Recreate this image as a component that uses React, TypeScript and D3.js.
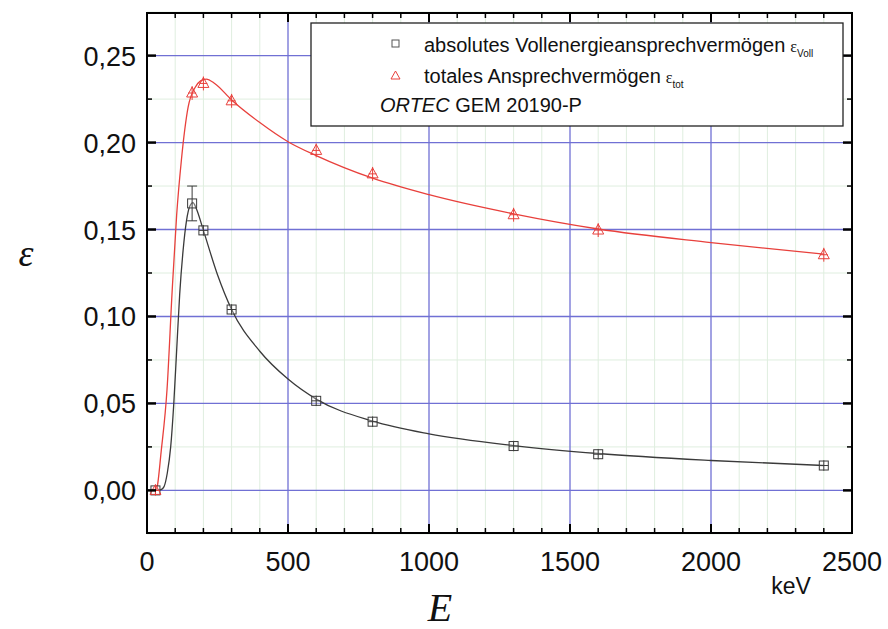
import React from "react";
import * as d3 from "d3";

const E_PTS = [30, 160, 200, 300, 600, 800, 1300, 1600, 2400];
const VOLL = [0.0, 0.165, 0.1495, 0.104, 0.0515, 0.0395, 0.0255, 0.0208, 0.0143];
const VOLL_ERR = [0.002, 0.01, 0.003, 0.003, 0.003, 0.003, 0.003, 0.003, 0.003];
const TOT = [0.0, 0.2285, 0.234, 0.224, 0.1955, 0.182, 0.1585, 0.1497, 0.1355];
const TOT_ERR = [0.003, 0.004, 0.004, 0.004, 0.004, 0.004, 0.004, 0.004, 0.004];

const FIT_VOLL_E = [30, 50, 60, 72, 84, 95, 105, 116, 128, 140, 152, 163, 175, 200, 250, 300, 400, 500, 600, 800, 1000, 1300, 1600, 2000, 2400];
const FIT_VOLL = [0, 0.0005, 0.002, 0.01, 0.025, 0.05, 0.08, 0.113, 0.138, 0.155, 0.1635, 0.1655, 0.162, 0.1495, 0.124, 0.104, 0.08, 0.064, 0.0525, 0.0398, 0.0325, 0.0258, 0.0212, 0.0172, 0.0143];
const FIT_TOT_E = [30, 36, 50, 71, 89, 105, 122, 146, 170, 190, 210, 240, 300, 400, 500, 600, 800, 1000, 1300, 1600, 2000, 2400];
const FIT_TOT = [0, 0.002, 0.022, 0.058, 0.114, 0.158, 0.19, 0.2205, 0.2315, 0.2355, 0.2365, 0.234, 0.2245, 0.2115, 0.2005, 0.1925, 0.1795, 0.17, 0.159, 0.1503, 0.1425, 0.1358];

const X_TICKS = [0, 500, 1000, 1500, 2000, 2500];
const X_LABELS = ["0", "500", "1000", "1500", "2000", "2500"];
const Y_TICKS = [0, 0.05, 0.1, 0.15, 0.2, 0.25];
const Y_LABELS = ["0,00", "0,05", "0,10", "0,15", "0,20", "0,25"];
const X_MINOR = d3.range(0, 2501, 100);
const Y_MINOR = [-0.025, 0, 0.025, 0.05, 0.075, 0.1, 0.125, 0.15, 0.175, 0.2, 0.225, 0.25, 0.275];

const LEGEND_1 = "absolutes Vollenergieansprechvermögen";
const LEGEND_2 = "totales Ansprechvermögen";
const LEGEND_3A = "ORTEC";
const LEGEND_3B = " GEM 20190-P";

const L = 147, R = 852, T = 13, B = 533;
const BLUE = "#7070d4";
const MINOR = "#dfeedf";
const RED = "#e8403c";
const DARK = "#3a3a3a";
const SANS = "'Liberation Sans', Arial, sans-serif";
const SERIF = "'Liberation Serif', 'Times New Roman', serif";

export default function App() {
  const x = d3.scaleLinear().domain([0, 2500]).range([L, R]);
  const y = d3.scaleLinear().domain([-0.0245, 0.2745]).range([B, T]);

  const vollLine = d3
    .line<number>()
    .x((_, i) => x(FIT_VOLL_E[i]))
    .y((d) => y(d))
    .curve(d3.curveMonotoneX)(FIT_VOLL) as string;
  const totLine = d3
    .line<number>()
    .x((_, i) => x(FIT_TOT_E[i]))
    .y((d) => y(d))
    .curve(d3.curveMonotoneX)(FIT_TOT) as string;

  const sq = 4.5;
  return (
    <svg width={888} height={629} style={{ position: "absolute", left: 0, top: 0, background: "#fff" }}>
      <defs>
        <clipPath id="plot">
          <rect x={L} y={T} width={R - L} height={B - T} />
        </clipPath>
      </defs>
      {/* minor grid */}
      <g stroke={MINOR} strokeWidth={1}>
        {X_MINOR.filter((v) => v % 500 !== 0).map((v) => (
          <line key={"xm" + v} x1={x(v)} x2={x(v)} y1={T} y2={B} />
        ))}
        {Y_MINOR.filter((v) => Math.round(v * 1000) % 50 !== 0).map((v) => (
          <line key={"ym" + v} x1={L} x2={R} y1={y(v)} y2={y(v)} />
        ))}
      </g>
      {/* major grid */}
      <g stroke={BLUE} strokeWidth={1.3}>
        {X_TICKS.slice(1, -1).map((v) => (
          <line key={"xg" + v} x1={x(v)} x2={x(v)} y1={T} y2={B} />
        ))}
        {Y_TICKS.map((v) => (
          <line key={"yg" + v} x1={L} x2={R} y1={y(v)} y2={y(v)} />
        ))}
      </g>
      {/* curves */}
      <g clipPath="url(#plot)" fill="none">
        <path d={totLine} stroke={RED} strokeWidth={1.3} />
        <path d={vollLine} stroke={DARK} strokeWidth={1.3} />
      </g>
      {/* voll markers */}
      <g stroke={DARK} strokeWidth={1} fill="none">
        {E_PTS.map((e, i) => {
          const cx = x(e), cy = y(VOLL[i]);
          const eTop = y(VOLL[i] + VOLL_ERR[i]);
          const eBot = y(VOLL[i] - VOLL_ERR[i]);
          const big = VOLL_ERR[i] > 0.005;
          return (
            <g key={"v" + i}>
              <rect x={cx - sq} y={cy - sq} width={2 * sq} height={2 * sq} fill="#fff" fillOpacity={0.3} />
              <line x1={cx} x2={cx} y1={eTop} y2={eBot} />
              {big ? (
                <>
                  <line x1={cx - 5} x2={cx + 5} y1={eTop} y2={eTop} />
                  <line x1={cx - 5} x2={cx + 5} y1={eBot} y2={eBot} />
                </>
              ) : (
                <line x1={cx - sq} x2={cx + sq} y1={cy} y2={cy} />
              )}
            </g>
          );
        })}
      </g>
      {/* tot markers */}
      <g stroke={RED} strokeWidth={1} fill="none">
        {E_PTS.map((e, i) => {
          const cx = x(e), cy = y(TOT[i]);
          const eTop = y(TOT[i] + TOT_ERR[i]);
          const eBot = y(TOT[i] - TOT_ERR[i]);
          return (
            <g key={"t" + i}>
              <path d={`M${cx},${cy - 6}L${cx + 5.5},${cy + 4}L${cx - 5.5},${cy + 4}Z`} />
              <line x1={cx} x2={cx} y1={eTop} y2={eBot} />
              <line x1={cx - 4} x2={cx + 4} y1={cy} y2={cy} />
            </g>
          );
        })}
      </g>
      {/* frame */}
      <rect x={L} y={T} width={R - L} height={B - T} fill="none" stroke="#000" strokeWidth={2} />
      {/* ticks */}
      <g stroke="#000">
        {X_MINOR.map((v) => {
          const major = v % 500 === 0;
          const len = major ? 9 : 5;
          const w = major ? 2 : 1.5;
          return (
            <g key={"xt" + v}>
              <line x1={x(v)} x2={x(v)} y1={B} y2={B - len} strokeWidth={w} />
              <line x1={x(v)} x2={x(v)} y1={T} y2={T + len} strokeWidth={w} />
            </g>
          );
        })}
        {Y_MINOR.filter((v) => v > -0.02 && v < 0.27).map((v) => {
          const major = Math.round(v * 1000) % 50 === 0;
          const len = major ? 9 : 5;
          const w = major ? 2.5 : 1.5;
          return (
            <g key={"yt" + v}>
              <line x1={L} x2={L + len} y1={y(v)} y2={y(v)} strokeWidth={w} />
              <line x1={R} x2={R - len} y1={y(v)} y2={y(v)} strokeWidth={w} />
            </g>
          );
        })}
      </g>
      {/* tick labels */}
      <g fontFamily={SANS} fontSize={27} fill="#111">
        {Y_TICKS.map((v, i) => (
          <text key={"yl" + v} x={136} y={y(v) + 10} textAnchor="end">
            {Y_LABELS[i]}
          </text>
        ))}
        {X_TICKS.map((v, i) => (
          <text key={"xl" + v} x={x(v)} y={571} textAnchor="middle">
            {X_LABELS[i]}
          </text>
        ))}
      </g>
      <text x={791} y={594} fontFamily={SANS} fontSize={23} textAnchor="middle" fill="#111">
        keV
      </text>
      <text x={440} y={621} fontFamily={SERIF} fontStyle="italic" fontSize={40} textAnchor="middle" fill="#111">
        E
      </text>
      <text x={26} y={266} fontFamily={SERIF} fontStyle="italic" fontSize={38} textAnchor="middle" fill="#111">
        ε
      </text>
      {/* legend */}
      <g>
        <rect x={311} y={23} width={532} height={103} fill="#fff" stroke="#222" strokeWidth={1.3} />
        <rect x={392} y={40} width={7} height={7} fill="none" stroke="#555" strokeWidth={1} />
        <path d="M395.5,71 L400,79 L391,79 Z" fill="none" stroke={RED} strokeWidth={1} />
        <text x={424} y={52} fontFamily={SANS} fontSize={20} fill="#111">
          {LEGEND_1}
          <tspan fontFamily={SERIF} fontSize={16} dx={5}>ε</tspan>
          <tspan fontSize={10} dy={5}>Voll</tspan>
        </text>
        <text x={424} y={83} fontFamily={SANS} fontSize={20} fill="#111">
          {LEGEND_2}
          <tspan fontFamily={SERIF} fontSize={16} dx={5}>ε</tspan>
          <tspan fontSize={10} dy={5}>tot</tspan>
        </text>
        <text x={380} y={112} fontFamily={SANS} fontSize={20} fill="#111">
          <tspan fontStyle="italic">{LEGEND_3A}</tspan>
          {LEGEND_3B}
        </text>
      </g>
    </svg>
  );
}
